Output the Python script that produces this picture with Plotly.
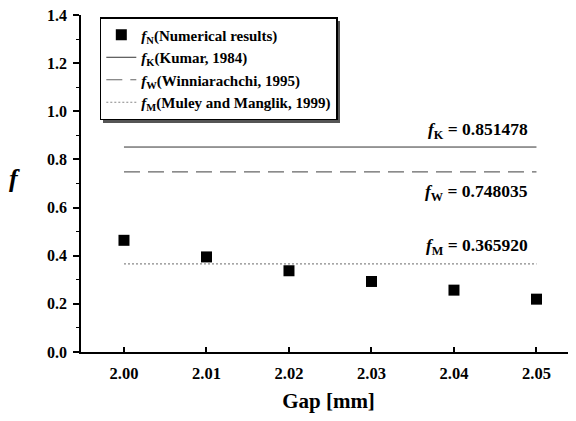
import plotly.graph_objects as go

gap = [2.00, 2.01, 2.02, 2.03, 2.04, 2.05]
gap_labels = ["2.00", "2.01", "2.02", "2.03", "2.04", "2.05"]
f_ticks = [0.0, 0.2, 0.4, 0.6, 0.8, 1.0, 1.2, 1.4]
f_tick_labels = ["0.0", "0.2", "0.4", "0.6", "0.8", "1.0", "1.2", "1.4"]
f_numerical = [0.464, 0.395, 0.3375, 0.293, 0.257, 0.2195]
f_kumar = 0.851478
f_winni = 0.748035
f_muley = 0.365920
line_x = [2.00, 2.05]

FONT = "Liberation Serif"

fig = go.Figure()
fig.add_trace(go.Scatter(
    x=gap, y=f_numerical, mode="markers",
    marker=dict(symbol="square", size=11, color="black"),
    name="<b><i>f</i><sub>N</sub>(Numerical results)</b>"))
fig.add_trace(go.Scatter(
    x=line_x, y=[f_kumar, f_kumar], mode="lines",
    line=dict(color="#333333", width=1),
    name="<b><i>f</i><sub>K</sub>(Kumar, 1984)</b>"))
fig.add_trace(go.Scatter(
    x=line_x, y=[f_winni, f_winni], mode="lines",
    line=dict(color="#666666", width=1.2, dash="16px,8px"),
    name="<b><i>f</i><sub>W</sub>(Winniarachchi, 1995)</b>"))
fig.add_trace(go.Scatter(
    x=line_x, y=[f_muley, f_muley], mode="lines",
    line=dict(color="#888888", width=1.2, dash="2px,2px"),
    name="<b><i>f</i><sub>M</sub>(Muley and Manglik, 1999)</b>"))

ann_font = dict(family=FONT, size=17.5, color="black")
for txt, yv in [("<b><i>f</i><sub>K</sub> = 0.851478</b>", 0.92),
                ("<b><i>f</i><sub>W</sub> = 0.748035</b>", 0.6625),
                ("<b><i>f</i><sub>M</sub> = 0.365920</b>", 0.4375)]:
    fig.add_annotation(x=2.0492, y=yv, text=txt, showarrow=False,
                       xanchor="right", yanchor="middle", font=ann_font)

fig.add_annotation(xref="paper", yref="paper", x=-0.135, y=0.515,
                   xanchor="center", yanchor="middle",
                   text="<b><i>f</i></b>", showarrow=False,
                   font=dict(family=FONT, size=26, color="black"))

# legend drop shadow (behind legend box)
fig.add_shape(type="rect", xref="paper", yref="paper", layer="below",
              x0=(103 - 81) / 495, x1=(340 - 81) / 495,
              y0=(352 - 123) / 337, y1=(352 - 21) / 337,
              fillcolor="#555555", line=dict(width=0))

fig.update_layout(
    width=568, height=413,
    margin=dict(l=73, r=0, t=7, b=69),
    plot_bgcolor="white", paper_bgcolor="white",
    font=dict(family=FONT, color="black"),
    showlegend=True,
    legend=dict(x=0.038, y=0.994, xanchor="left", yanchor="top",
                bordercolor="black", borderwidth=1.5, bgcolor="white",
                font=dict(family=FONT, size=15, color="black"),
                itemwidth=30, tracegroupgap=0),
    xaxis=dict(range=[1.99479, 2.05479], tickvals=gap, ticktext=gap_labels,
               showgrid=False, zeroline=False, showline=True,
               linecolor="black", linewidth=1.5,
               ticks="inside", ticklen=5, tickcolor="black", tickwidth=1.5,
               ticklabelstandoff=5, ticklabeloverflow="allow",
               tickfont=dict(family=FONT, size=16.5, color="black", weight="bold"),
               title=dict(text="<b>Gap [mm]</b>", font=dict(family=FONT, size=21, color="black"), standoff=12)),
    yaxis=dict(range=[0, 1.4], tickvals=f_ticks, ticktext=f_tick_labels,
               showgrid=False, zeroline=False, showline=True,
               linecolor="black", linewidth=1.5,
               ticks="outside", ticklen=6, tickcolor="black", tickwidth=1.5,
               ticklabelstandoff=3, ticklabeloverflow="allow",
               minor=dict(tickvals=[0.1, 0.3, 0.5, 0.7, 0.9, 1.1, 1.3],
                          ticks="outside", ticklen=3, tickcolor="black", tickwidth=1),
               tickfont=dict(family=FONT, size=16, color="black", weight="bold")),
)
fig.write_html("out.html")
